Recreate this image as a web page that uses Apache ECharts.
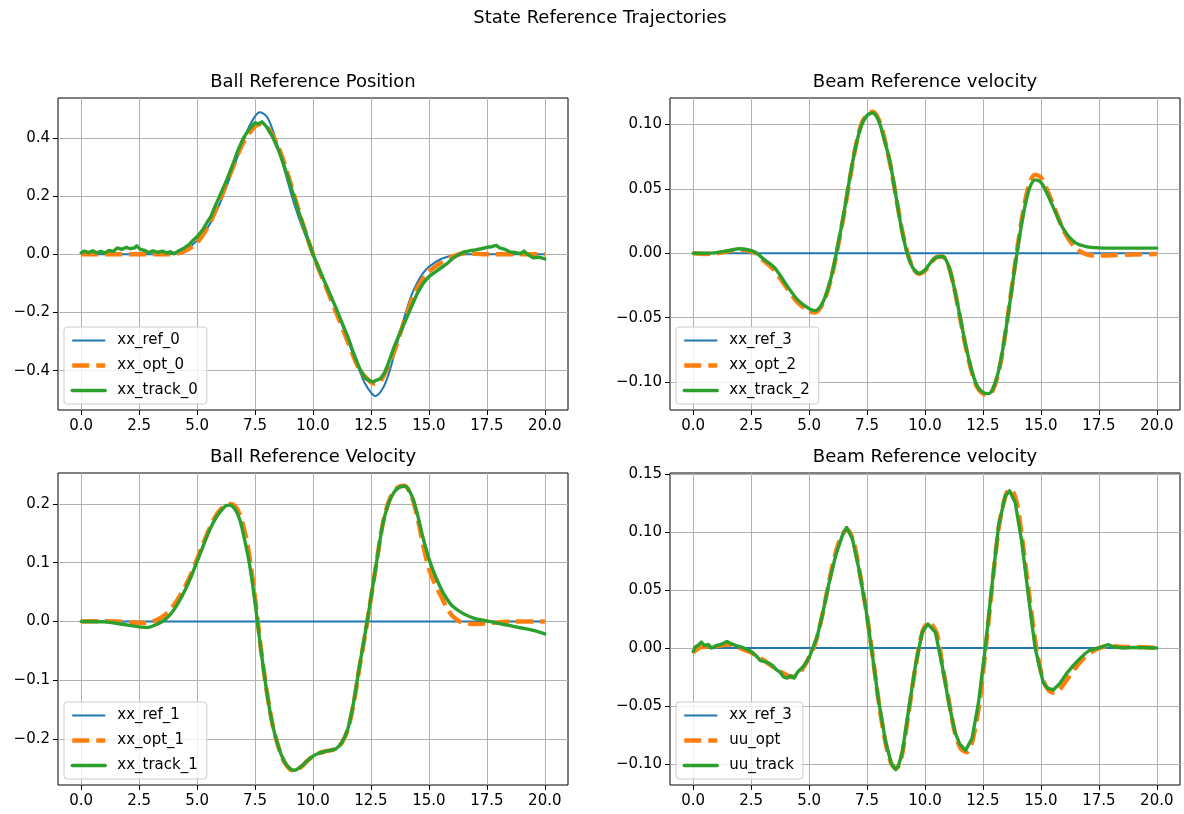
<!DOCTYPE html>
<html><head><meta charset="utf-8">
<script src="https://cdn.jsdelivr.net/npm/echarts@6/dist/echarts.min.js"></script>
<style>html,body{margin:0;padding:0;background:#fff}#c{width:1184px;height:814px}</style>
</head><body><div id="c"></div>
<script>
// ---------- data (time, value) ----------
const SUPTITLE = 'State Reference Trajectories';
const TITLES = ['Ball Reference Position', 'Beam Reference velocity', 'Ball Reference Velocity', 'Beam Reference velocity'];
const X_TICKS = [0, 2.5, 5, 7.5, 10, 12.5, 15, 17.5, 20];
const Y_TICKS_1 = [-0.4, -0.2, 0, 0.2, 0.4];
const Y_TICKS_2 = [-0.10, -0.05, 0, 0.05, 0.10];
const Y_TICKS_3 = [-0.2, -0.1, 0, 0.1, 0.2];
const Y_TICKS_4 = [-0.10, -0.05, 0, 0.05, 0.10, 0.15];
const NAMES_1 = ['xx_ref_0', 'xx_opt_0', 'xx_track_0'];
const NAMES_2 = ['xx_ref_3', 'xx_opt_2', 'xx_track_2'];
const NAMES_3 = ['xx_ref_1', 'xx_opt_1', 'xx_track_1'];
const NAMES_4 = ['xx_ref_3', 'uu_opt', 'uu_track'];

// Plot 1: ball position
const xx_ref_0 = [[0,0],[2,0],[3.5,0],[4,0.002],[4.5,0.015],[5,0.047],[5.5,0.097],[6,0.178],[6.5,0.282],[7,0.39],[7.25,0.44],[7.5,0.474],[7.7,0.488],[8,0.474],[8.25,0.43],[8.5,0.365],[8.75,0.295],[9,0.224],[9.25,0.158],[9.5,0.1],[9.75,0.05],[10,0],[10.5,-0.094],[11,-0.19],[11.5,-0.295],[12,-0.398],[12.25,-0.445],[12.5,-0.475],[12.7,-0.487],[13,-0.462],[13.25,-0.415],[13.5,-0.345],[13.75,-0.27],[14,-0.2],[14.25,-0.14],[14.5,-0.097],[14.75,-0.065],[15,-0.043],[15.5,-0.017],[16,-0.005],[16.5,0],[18,0],[20,0]];
const xx_opt_0 = [[0,0],[2,0],[3.5,0],[4,0.001],[4.5,0.012],[5,0.04],[5.5,0.1],[6,0.19],[6.5,0.29],[7,0.385],[7.5,0.44],[7.75,0.448],[8,0.44],[8.5,0.37],[9,0.252],[9.5,0.12],[10,0],[10.5,-0.1],[11,-0.2],[11.5,-0.3],[12,-0.395],[12.5,-0.44],[12.75,-0.445],[13,-0.425],[13.5,-0.335],[14,-0.215],[14.5,-0.115],[15,-0.06],[15.5,-0.03],[16,-0.008],[16.5,0.003],[17,0.002],[17.5,0],[19,0],[20,0]];
const xx_track_0 = [[0,0.005],[0.15,0.011],[0.3,0.006],[0.5,0.012],[0.65,0.005],[0.85,0.01],[1,0.004],[1.2,0.013],[1.4,0.01],[1.55,0.022],[1.75,0.017],[1.95,0.024],[2.1,0.019],[2.3,0.022],[2.4,0.029],[2.55,0.017],[2.75,0.013],[2.9,0.006],[3.1,0.012],[3.3,0.007],[3.5,0.011],[3.7,0.004],[3.85,0.009],[4,0.002],[4.2,0.011],[4.45,0.022],[4.65,0.033],[4.85,0.05],[5,0.06],[5.25,0.085],[5.45,0.112],[5.6,0.13],[5.75,0.16],[6,0.205],[6.25,0.25],[6.5,0.3],[6.75,0.355],[7,0.4],[7.25,0.43],[7.5,0.452],[7.65,0.448],[7.8,0.455],[8,0.438],[8.25,0.405],[8.5,0.36],[8.75,0.305],[9,0.245],[9.25,0.18],[9.5,0.118],[9.75,0.058],[10,0.0],[10.25,-0.048],[10.5,-0.094],[10.75,-0.14],[11,-0.186],[11.25,-0.235],[11.5,-0.283],[11.75,-0.34],[12,-0.39],[12.25,-0.425],[12.4,-0.433],[12.6,-0.438],[12.75,-0.432],[12.9,-0.428],[13.1,-0.405],[13.25,-0.375],[13.5,-0.318],[13.75,-0.27],[14,-0.226],[14.25,-0.18],[14.5,-0.134],[14.75,-0.1],[15,-0.077],[15.25,-0.062],[15.5,-0.048],[15.75,-0.034],[16,-0.016],[16.25,-0.003],[16.5,0.008],[16.75,0.012],[17,0.015],[17.25,0.019],[17.5,0.024],[17.7,0.026],[17.9,0.031],[18.05,0.022],[18.25,0.018],[18.5,0.008],[18.75,0.006],[18.95,0.002],[19.1,0.011],[19.25,0.0],[19.5,-0.012],[19.75,-0.01],[20,-0.016]];

// Plot 2: beam velocity
const xx_ref_3 = [[0,0],[5,0],[10,0],[15,0],[20,0]];
const xx_opt_2 = [[0,0],[0.5,-0.0005],[1,0],[1.5,0.0015],[2,0.003],[2.5,0.0015],[2.75,-0.0005],[3,-0.005],[3.5,-0.013],[4,-0.026],[4.5,-0.038],[5,-0.045],[5.25,-0.046],[5.5,-0.042],[5.75,-0.032],[6,-0.016],[6.25,0.006],[6.5,0.03],[6.75,0.057],[7,0.082],[7.25,0.1],[7.5,0.108],[7.75,0.11],[8,0.104],[8.25,0.089],[8.5,0.069],[8.75,0.044],[9,0.019],[9.25,0],[9.5,-0.012],[9.75,-0.016],[10,-0.0135],[10.25,-0.0075],[10.5,-0.003],[10.75,-0.0025],[11,-0.009],[11.25,-0.026],[11.5,-0.049],[11.75,-0.072],[12,-0.091],[12.25,-0.104],[12.5,-0.109],[12.75,-0.11],[13,-0.103],[13.25,-0.086],[13.5,-0.058],[13.75,-0.026],[14,0.006],[14.25,0.034],[14.5,0.054],[14.75,0.061],[15,0.059],[15.25,0.05],[15.5,0.039],[16,0.017],[16.5,0.004],[17,-0.001],[17.5,-0.0018],[18,-0.0015],[19,-0.001],[20,-0.0005]];
const xx_track_2 = [[0,0],[0.5,0],[1,0.0005],[1.5,0.002],[2,0.0035],[2.5,0.002],[2.75,0],[3,-0.004],[3.5,-0.011],[4,-0.024],[4.5,-0.036],[5,-0.043],[5.25,-0.0445],[5.5,-0.041],[5.75,-0.031],[6,-0.015],[6.25,0.007],[6.5,0.031],[6.75,0.058],[7,0.082],[7.25,0.099],[7.5,0.107],[7.75,0.109],[8,0.103],[8.25,0.088],[8.5,0.07],[8.75,0.044],[9,0.018],[9.25,-0.001],[9.5,-0.012],[9.75,-0.0155],[10,-0.013],[10.25,-0.007],[10.5,-0.003],[10.75,-0.0025],[11,-0.009],[11.25,-0.026],[11.5,-0.048],[11.75,-0.071],[12,-0.09],[12.25,-0.103],[12.5,-0.108],[12.75,-0.109],[13,-0.102],[13.25,-0.085],[13.5,-0.058],[13.75,-0.027],[14,0.004],[14.25,0.031],[14.5,0.05],[14.75,0.057],[15,0.055],[15.25,0.047],[15.5,0.037],[16,0.018],[16.5,0.008],[17,0.005],[17.5,0.0042],[18,0.004],[19,0.004],[20,0.004]];

// Plot 3: ball velocity
const xx_ref_1 = [[0,0],[5,0],[10,0],[15,0],[20,0]];
const xx_opt_1 = [[0,0],[1,0.0005],[1.5,0],[2,-0.001],[2.5,-0.002],[2.8,-0.0025],[3.1,0],[3.5,0.008],[3.75,0.016],[4,0.028],[4.25,0.043],[4.5,0.061],[4.75,0.082],[5,0.106],[5.25,0.131],[5.5,0.155],[5.75,0.176],[6,0.19],[6.25,0.199],[6.45,0.2],[6.7,0.193],[6.9,0.175],[7.1,0.145],[7.3,0.1],[7.5,0.04],[7.62,0],[7.75,-0.045],[8,-0.117],[8.25,-0.174],[8.5,-0.212],[8.75,-0.238],[9,-0.251],[9.2,-0.254],[9.5,-0.247],[9.75,-0.237],[10,-0.229],[10.25,-0.224],[10.5,-0.221],[10.75,-0.219],[11,-0.216],[11.25,-0.206],[11.5,-0.184],[11.75,-0.14],[12,-0.079],[12.25,-0.022],[12.5,0.04],[12.75,0.103],[13,0.164],[13.25,0.202],[13.5,0.222],[13.75,0.23],[13.95,0.231],[14.25,0.213],[14.5,0.178],[14.75,0.13],[15,0.09],[15.25,0.065],[15.5,0.045],[15.75,0.025],[16,0.01],[16.25,0.002],[16.5,-0.003],[17,-0.004],[17.5,-0.003],[18,-0.0015],[18.5,0],[20,0]];
const xx_track_1 = [[0,0],[1,-0.0005],[1.5,-0.003],[2,-0.006],[2.5,-0.009],[2.85,-0.0102],[3.25,-0.005],[3.5,0.0],[3.75,0.008],[4,0.02],[4.25,0.036],[4.5,0.055],[4.75,0.077],[5,0.102],[5.25,0.127],[5.5,0.152],[5.75,0.172],[6,0.187],[6.25,0.197],[6.4,0.198],[6.65,0.19],[6.85,0.172],[7,0.148],[7.25,0.1],[7.5,0.033],[7.6,0],[7.75,-0.047],[8,-0.118],[8.25,-0.175],[8.5,-0.212],[8.75,-0.237],[9,-0.25],[9.2,-0.253],[9.5,-0.246],[9.75,-0.237],[10,-0.229],[10.25,-0.224],[10.5,-0.221],[10.75,-0.219],[11,-0.216],[11.25,-0.205],[11.5,-0.183],[11.75,-0.138],[12,-0.077],[12.25,-0.02],[12.5,0.04],[12.75,0.103],[13,0.163],[13.25,0.2],[13.5,0.22],[13.75,0.229],[13.95,0.23],[14.25,0.215],[14.5,0.183],[14.75,0.142],[15,0.107],[15.25,0.08],[15.5,0.058],[15.75,0.04],[16,0.027],[16.5,0.013],[17,0.005],[17.5,0.001],[18,-0.003],[18.5,-0.007],[19,-0.011],[19.5,-0.015],[20,-0.021]];

// Plot 4: beam velocity / input
const xx_ref_3b = [[0,0],[5,0],[10,0],[15,0],[20,0]];
const uu_opt = [[0,-0.004],[0.25,0],[0.5,0.001],[0.75,0.001],[1,0.0015],[1.5,0.003],[1.75,0.002],[2,0],[2.5,-0.004],[3,-0.01],[3.5,-0.017],[4,-0.023],[4.25,-0.025],[4.5,-0.023],[4.75,-0.017],[5,-0.008],[5.25,0.003],[5.5,0.022],[5.75,0.046],[6,0.07],[6.25,0.089],[6.5,0.1],[6.65,0.102],[6.9,0.093],[7.15,0.069],[7.45,0.034],[7.75,-0.008],[8,-0.046],[8.3,-0.082],[8.55,-0.1],[8.75,-0.104],[8.9,-0.1],[9.05,-0.088],[9.3,-0.055],[9.6,-0.015],[9.9,0.0145],[10.15,0.022],[10.5,0.013],[10.75,-0.015],[11.05,-0.048],[11.3,-0.074],[11.55,-0.087],[11.8,-0.09],[12.05,-0.08],[12.35,-0.047],[12.62,0],[12.9,0.054],[13.2,0.106],[13.5,0.133],[13.7,0.137],[13.95,0.126],[14.2,0.093],[14.5,0.045],[14.8,0.0],[15.1,-0.028],[15.35,-0.037],[15.6,-0.039],[15.85,-0.035],[16.1,-0.028],[16.5,-0.017],[16.9,-0.008],[17.3,-0.002],[17.7,0.001],[18,0.0015],[18.5,0.001],[19.5,0.0005],[20,0]];
const uu_track = [[0,-0.003],[0.1,0.001],[0.2,0.002],[0.35,0.005],[0.5,0.002],[0.65,0.003],[0.8,0],[1,0.002],[1.2,0.003],[1.45,0.0055],[1.6,0.004],[1.85,0.002],[2.05,0.001],[2.3,-0.001],[2.5,-0.003],[2.75,-0.0075],[2.9,-0.011],[3.15,-0.012],[3.4,-0.015],[3.6,-0.019],[3.75,-0.021],[3.9,-0.025],[4.05,-0.026],[4.2,-0.024],[4.35,-0.026],[4.5,-0.021],[4.6,-0.019],[4.75,-0.016],[4.9,-0.012],[5.05,-0.006],[5.2,0.002],[5.35,0.01],[5.6,0.031],[5.85,0.055],[6.15,0.08],[6.45,0.098],[6.62,0.104],[6.87,0.094],[7.15,0.068],[7.45,0.034],[7.73,-0.006],[8.0,-0.046],[8.3,-0.081],[8.55,-0.1],[8.73,-0.105],[8.85,-0.102],[9.02,-0.09],[9.3,-0.053],[9.59,-0.015],[9.88,0.0135],[10.12,0.0207],[10.45,0.0135],[10.74,-0.015],[11.02,-0.047],[11.3,-0.073],[11.5,-0.083],[11.75,-0.0885],[12.03,-0.078],[12.31,-0.047],[12.6,0],[12.89,0.054],[13.17,0.105],[13.46,0.131],[13.65,0.1356],[13.89,0.1256],[14.18,0.091],[14.46,0.045],[14.75,0.0],[15.1,-0.03],[15.3,-0.035],[15.54,-0.036],[15.8,-0.031],[16.11,-0.022],[16.4,-0.015],[16.69,-0.009],[16.9,-0.005],[17.1,-0.002],[17.41,-0.0003],[17.65,0.001],[17.9,0.003],[18.1,0.001],[18.55,0],[19,0.0005],[20,0]];

// ---------- layout / style ----------
const FONT = 'DejaVu Sans';
const C_REF = '#1f77b4', C_OPT = '#ff7f0e', C_TRK = '#2ca02c';
const W_REF = 2, W_OPT = 4.5, W_TRK = 3.4;
const DASH = [17, 7];
const GRIDS = [
  {left: 58, top: 98}, {left: 670, top: 98},
  {left: 58, top: 473}, {left: 670, top: 473}
];
const GW = 510, GH = 312;
const Y_RANGES = [[-0.535, 0.537], [-0.1217, 0.1206], [-0.278, 0.2526], [-0.1183, 0.151]];
const Y_TICKS = [Y_TICKS_1, Y_TICKS_2, Y_TICKS_3, Y_TICKS_4];
const Y_DEC = [1, 2, 1, 2];
const NAMES = [NAMES_1, NAMES_2, NAMES_3, NAMES_4];
const SERIES_DATA = [
  [xx_ref_0, xx_opt_0, xx_track_0],
  [xx_ref_3, xx_opt_2, xx_track_2],
  [xx_ref_1, xx_opt_1, xx_track_1],
  [xx_ref_3b, uu_opt, uu_track]
];
const NOISY = [true, false, false, true];

function fmt(v, d) {
  const s = Math.abs(v).toFixed(d);
  return (v < -1e-12 ? '\u2212' : '') + s;
}

const option = {
  animation: false,
  backgroundColor: '#fff',
  title: [{
    text: SUPTITLE, left: 600, top: 9, textAlign: 'center', padding: 0,
    textStyle: {fontFamily: FONT, fontSize: 18, fontWeight: 'normal', color: '#000'}
  }].concat(GRIDS.map((g, i) => ({
    text: TITLES[i], left: g.left + GW / 2, top: g.top - 25, textAlign: 'center', padding: 0,
    textStyle: {fontFamily: FONT, fontSize: 18, fontWeight: 'normal', color: '#000'}
  }))),
  grid: GRIDS.map(g => ({left: g.left, top: g.top, width: GW, height: GH, show: true,
    borderColor: '#000', borderWidth: 1, containLabel: false})),
  xAxis: GRIDS.map((g, i) => ({
    type: 'value', gridIndex: i, min: -1, max: 21,
    axisLine: {show: false, onZero: false},
    axisTick: {show: true, length: 5, lineStyle: {color: '#000', width: 1}, customValues: X_TICKS},
    axisLabel: {customValues: X_TICKS, formatter: v => fmt(v, 1), margin: 9,
      fontFamily: FONT, fontSize: 15, color: '#000'},
    splitLine: {show: true, lineStyle: {color: '#b0b0b0', width: 1}}
  })),
  yAxis: GRIDS.map((g, i) => ({
    type: 'value', gridIndex: i, min: Y_RANGES[i][0], max: Y_RANGES[i][1],
    axisLine: {show: false, onZero: false},
    axisTick: {show: true, length: 5, lineStyle: {color: '#000', width: 1}, customValues: Y_TICKS[i]},
    axisLabel: {customValues: Y_TICKS[i], formatter: v => fmt(v, Y_DEC[i]), margin: 8,
      fontFamily: FONT, fontSize: 15, color: '#000'},
    splitLine: {show: true, lineStyle: {color: '#b0b0b0', width: 1}}
  })),
  legend: GRIDS.map((g, i) => ({
    data: [
      {name: NAMES[i][0], lineStyle: {width: W_REF, color: C_REF}},
      {name: NAMES[i][1], lineStyle: {width: W_OPT, color: C_OPT, type: DASH, cap: 'butt'}},
      {name: NAMES[i][2], lineStyle: {width: W_TRK, color: C_TRK}}
    ],
    orient: 'vertical', left: g.left + 6, top: g.top + GH - 8 - 75,
    itemWidth: 33, itemHeight: 14, itemGap: 10, padding: [6, 9, 6, 6],
    backgroundColor: 'rgba(255,255,255,0.8)', borderColor: '#cccccc', borderWidth: 1, borderRadius: 3,
    selectedMode: false,
    itemStyle: {opacity: 0},
    textStyle: {fontFamily: FONT, fontSize: 15, color: '#000', lineHeight: 14, padding: [0, 0, 0, 7]}
  })),
  series: []
};

SERIES_DATA.forEach((set, i) => {
  option.series.push({
    name: NAMES[i][0], type: 'line', xAxisIndex: i, yAxisIndex: i, data: set[0],
    symbol: 'none', smooth: 0.3, z: 2,
    lineStyle: {color: C_REF, width: W_REF}, itemStyle: {color: C_REF}
  });
  option.series.push({
    name: NAMES[i][1], type: 'line', xAxisIndex: i, yAxisIndex: i, data: set[1],
    symbol: 'none', smooth: 0.3, z: 3,
    lineStyle: {color: C_OPT, width: W_OPT, type: DASH, cap: 'butt'}, itemStyle: {color: C_OPT}
  });
  option.series.push({
    name: NAMES[i][2], type: 'line', xAxisIndex: i, yAxisIndex: i, data: set[2],
    symbol: 'none', smooth: NOISY[i] ? false : 0.3, z: 4,
    lineStyle: {color: C_TRK, width: W_TRK, join: 'round', cap: 'round'}, itemStyle: {color: C_TRK}
  });
});

const chart = echarts.init(document.getElementById('c'), null, {renderer: 'canvas'});
chart.setOption(option);
</script></body></html>
